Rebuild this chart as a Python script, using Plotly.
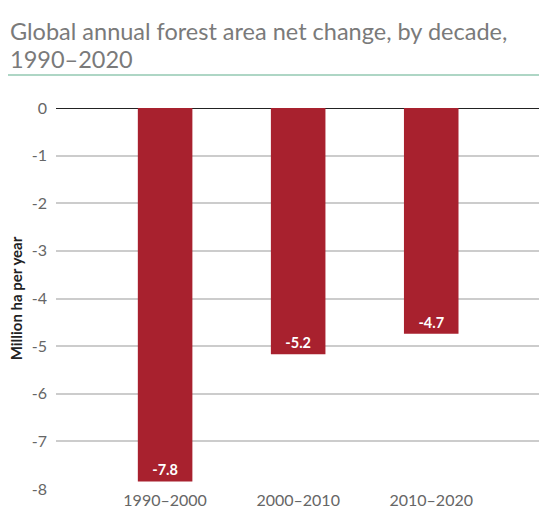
import plotly.graph_objects as go

decades = ["1990–2000", "2000–2010", "2010–2020"]
net_change = [-7.84, -5.17, -4.74]
labels = ["-7.8", "-5.2", "-4.7"]
y_ticks = [0, -1, -2, -3, -4, -5, -6, -7, -8]
title_lines = ["Global annual forest area net change, by decade,", "1990–2020"]

x_pos = list(range(len(decades)))

fig = go.Figure()
fig.add_trace(go.Bar(
    x=x_pos, y=net_change, width=0.41,
    marker=dict(color="#a8212e", line=dict(width=0)),
    text=labels, textposition="inside", insidetextanchor="end",
    textangle=0,
    textfont=dict(family="Lato", size=14.5, color="white", weight="bold"),
    hoverinfo="skip",
))

plot_top, plot_h = 108, 381

def py(pix):
    return (plot_top + plot_h - pix) / plot_h

annotations = []
for i, line in enumerate(title_lines):
    annotations.append(dict(
        text=line, xref="paper", yref="paper", x=(8 - 56) / 483, y=py(31 + 28 * i),
        xanchor="left", yanchor="middle", showarrow=False,
        font=dict(family="Lato", size=23.5, color="#7a7a7a"),
    ))

fig.update_layout(
    width=539, height=510,
    margin=dict(l=56, r=0, t=108, b=21),
    paper_bgcolor="white", plot_bgcolor="white",
    showlegend=False,
    annotations=annotations,
    xaxis=dict(
        range=[-0.82, 2.81], tickvals=x_pos, ticktext=decades,
        showgrid=False, zeroline=False, showline=False, ticks="",
        tickfont=dict(family="Lato", size=16, color="#666666"),
    ),
    yaxis=dict(
        range=[-8, 0], tickvals=y_ticks, ticktext=[str(v) for v in y_ticks],
        showgrid=True, gridcolor="#cccccc", gridwidth=1.5,
        zeroline=True, zerolinecolor="#222222", zerolinewidth=1.2,
        showline=False, ticks="", ticklabelstandoff=8,
        tickfont=dict(family="Lato", size=16, color="#666666"),
        title=dict(text="Million ha per year", standoff=5,
                   font=dict(family="Lato", size=15, color="#222222", weight="bold")),
    ),
    shapes=[dict(type="line", xref="paper", yref="paper",
                 x0=(8 - 56) / 483, x1=1.0, y0=py(75), y1=py(75),
                 line=dict(color="#5fae8c", width=1.2))],
)

fig.write_html("out.html")
